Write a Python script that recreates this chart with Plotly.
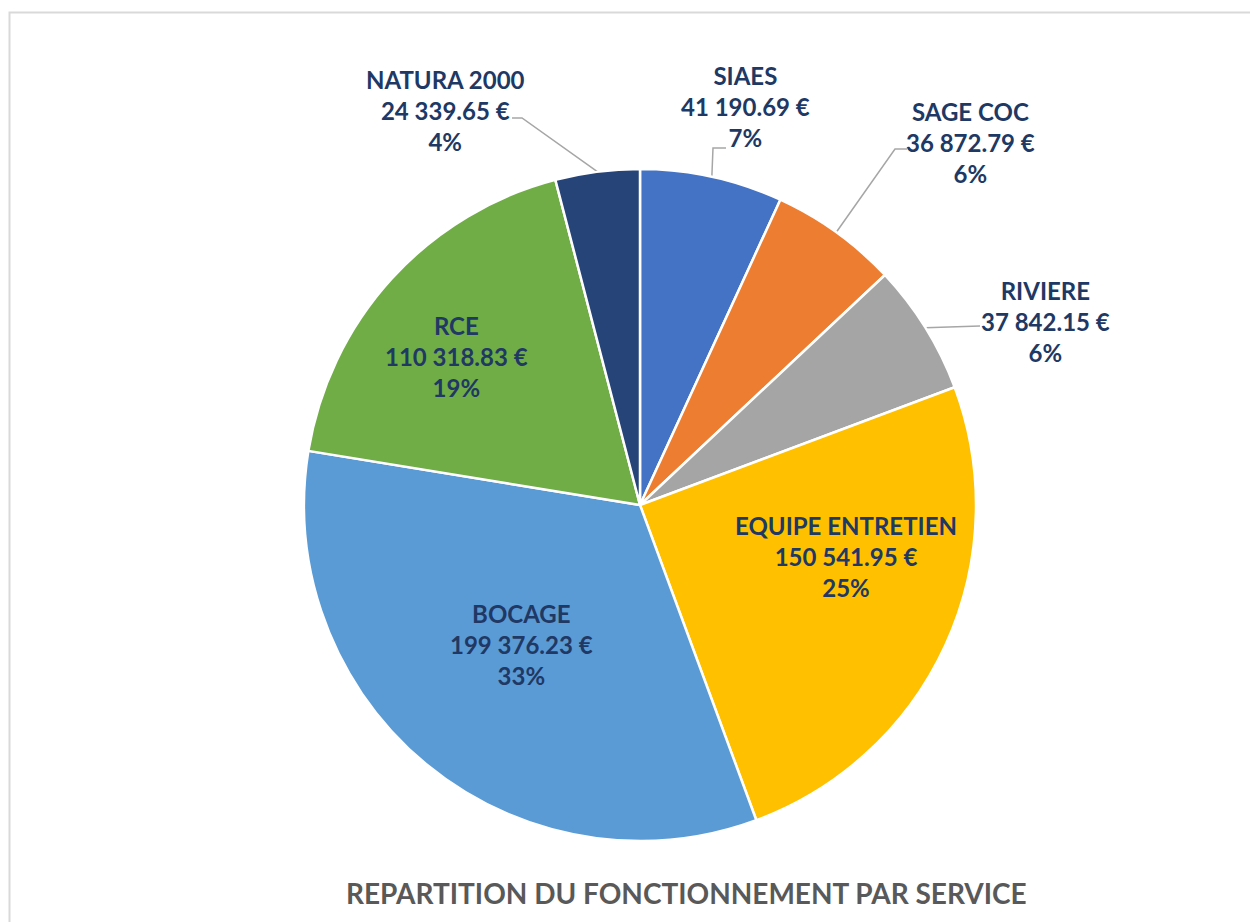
import math
import plotly.graph_objects as go

# ---------------- data ----------------
services = ["SIAES", "SAGE COC", "RIVIERE", "EQUIPE ENTRETIEN", "BOCAGE", "RCE", "NATURA 2000"]
amounts = [41190.69, 36872.79, 37842.15, 150541.95, 199376.23, 110318.83, 24339.65]
title_text = "REPARTITION DU FONCTIONNEMENT PAR SERVICE"

# ---------------- style / layout ----------------
PAGE_OFF = 8                       # default body margin of the html page
W, H = 1258 - PAGE_OFF, 922 - PAGE_OFF
colors = ["#4472C4", "#ED7D31", "#A5A5A5", "#FFC000", "#5B9BD5", "#70AD47", "#264478"]
label_color = "#203864"
FONT = "Lato"
LABEL_SIZE = 24
CX, CY, R = 640, 505, 336          # pie centre / radius in page pixels
# label centres (page pixels)
inside_layout = {
    "EQUIPE ENTRETIEN": (846, 556),
    "BOCAGE": (521, 644),
    "RCE": (456, 356),
}
# outside labels: centre, leader elbow (x, y) and leader end x
out_layout = {
    "NATURA 2000": dict(c=(445, 110), elbow=(522, 118), end=512),
    "SIAES": dict(c=(745, 106), elbow=(713, 148), end=726),
    "SAGE COC": dict(c=(970, 142), elbow=(895, 149), end=907),
    "RIVIERE": dict(c=(1045, 321), elbow=(975, 326), end=980),
}

total = sum(amounts)

# percentages rounded so that they add up to 100 (largest remainder, like Excel)
raw = [v / total * 100 for v in amounts]
pcts = [math.floor(p) for p in raw]
order = sorted(range(len(raw)), key=lambda i: raw[i] - pcts[i], reverse=True)
for i in order[: 100 - sum(pcts)]:
    pcts[i] += 1


def fmt_amount(v):
    return f"{v:,.2f}".replace(",", " ") + " €"


fig = go.Figure()

# hidden axes spanning the figure in page-pixel units
fig.update_layout(
    xaxis=dict(range=[PAGE_OFF, PAGE_OFF + W], visible=False, fixedrange=True),
    yaxis=dict(range=[PAGE_OFF + H, PAGE_OFF], visible=False, fixedrange=True),
)

label_font = dict(family=FONT, size=LABEL_SIZE, color=label_color, weight="bold")

cum = 0.0
for s, v, p in zip(services, amounts, pcts):
    mid = (cum + v / 2) / total * 2 * math.pi
    cum += v
    text = f"{s}<br>{fmt_amount(v)}<br>{p}%"
    if s in out_layout:
        ex = CX + R * math.sin(mid)
        ey = CY - R * math.cos(mid)
        lay = out_layout[s]
        bx, by = lay["elbow"]
        fig.add_trace(go.Scatter(
            x=[ex, bx, lay["end"]], y=[ey, by, by], mode="lines",
            line=dict(color="#A6A6A6", width=1.5), hoverinfo="skip", showlegend=False,
        ))
        cx, cy = lay["c"]
    else:
        cx, cy = inside_layout[s]
    fig.add_annotation(
        x=cx, y=cy, xref="x", yref="y", text=text,
        showarrow=False, align="center", xanchor="center", yanchor="middle",
        font=label_font,
    )

fig.add_trace(go.Pie(
    labels=services, values=amounts, sort=False,
    direction="clockwise", rotation=0,
    marker=dict(colors=colors, line=dict(color="white", width=2.5)),
    textinfo="none",
    domain=dict(
        x=[(CX - R - PAGE_OFF) / W, (CX + R - PAGE_OFF) / W],
        y=[1 - (CY + R - PAGE_OFF) / H, 1 - (CY - R - PAGE_OFF) / H],
    ),
    showlegend=False, hoverinfo="skip",
))

fig.add_annotation(
    x=686, y=893, xref="x", yref="y", text=title_text, showarrow=False,
    font=dict(family=FONT, size=28, color="#595959", weight="bold"),
    xanchor="center", yanchor="middle",
)

# chart border (right and bottom edges lie outside the picture)
fig.add_shape(type="rect", xref="x", yref="y", x0=9.5, y0=12.5, x1=1290, y1=960,
              line=dict(color="#D9D9D9", width=2), fillcolor="rgba(0,0,0,0)", layer="below")

fig.update_layout(
    width=W, height=H, margin=dict(l=0, r=0, t=0, b=0),
    paper_bgcolor="white", plot_bgcolor="white",
    hovermode=False,
    font=dict(family=FONT),
)

fig.write_html("out.html", config={"displayModeBar": False})
